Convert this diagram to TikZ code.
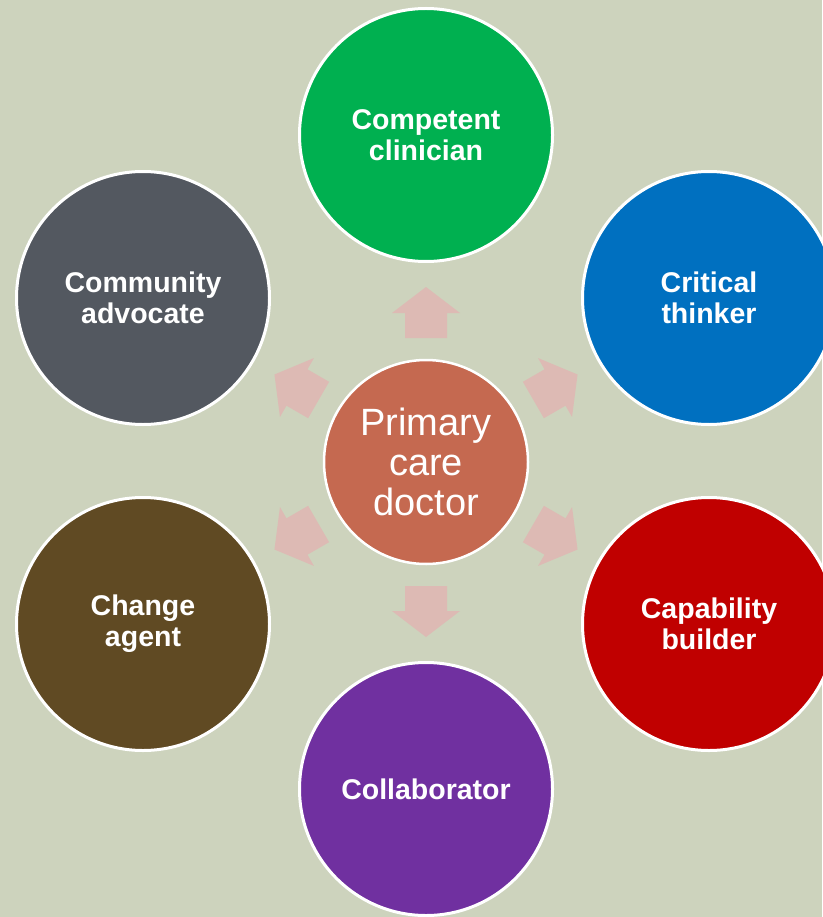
\documentclass[tikz,border=0pt]{standalone}
\usepackage{fontspec}
\setmainfont{Liberation Sans}
\usepackage{xcolor}
\usepackage{tikz}

\definecolor{bgsage}{RGB}{205,211,189}
\definecolor{hubred}{RGB}{197,105,80}
\definecolor{spokepink}{RGB}{221,186,180}
\definecolor{clingreen}{RGB}{0,176,80}
\definecolor{thinkblue}{RGB}{0,112,192}
\definecolor{buildred}{RGB}{192,0,0}
\definecolor{collabpurple}{RGB}{112,48,160}
\definecolor{changebrown}{RGB}{96,74,35}
\definecolor{advocategrey}{RGB}{83,88,96}

\begin{document}
\begin{tikzpicture}[x=1pt,y=1pt,yscale=-1,
  role/.style={circle,draw=white,line width=3pt,minimum size=253pt,inner sep=0pt,
    text=white,align=center,font=\bfseries\fontsize{28.5}{31}\selectfont},
  hub/.style={circle,draw=white,line width=2.5pt,minimum size=204pt,inner sep=0pt,
    fill=hubred,text=white,align=center,font=\fontsize{38}{40}\selectfont},
  spoke/.style={fill=spokepink}]
%set diagram size and background
\fill[bgsage] (0,0) rectangle (822,917);
\useasboundingbox (0,0) rectangle (822,917);

% Centre node
\node[hub] (ctr) at (426,462) {Primary\\care\\doctor};

% Block arrows
\foreach \a in {-90,-30,30,90,150,210}
  \fill[spoke,shift={(ctr)},rotate=\a] (124,-21) -- (149,-21) -- (149,-34) -- (175,0) -- (149,34) -- (149,21) -- (124,21) -- cycle;

% Role nodes
\node[role,fill=clingreen] (competent) at (426,135) {Competent\\clinician};
\node[role,fill=thinkblue] (critical) at (709,298) {Critical\\thinker};
\node[role,fill=buildred] (capability) at (709,624) {Capability\\builder};
\node[role,fill=collabpurple] (collab) at (426,789) {Collaborator};
\node[role,fill=changebrown] (change) at (143,624) {Change\\agent};
\node[role,fill=advocategrey] (community) at (143,298) {Community\\advocate};

\end{tikzpicture}
\end{document}
